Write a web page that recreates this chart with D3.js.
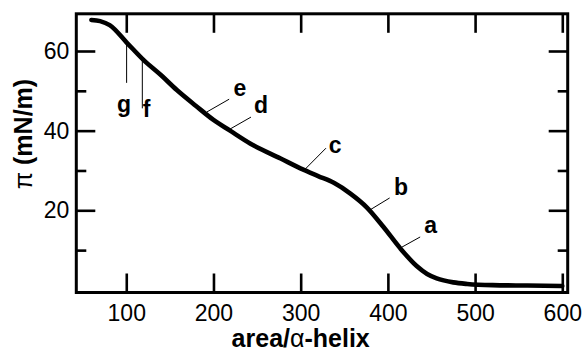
<!DOCTYPE html>
<html>
<head>
<meta charset="utf-8">
<script src="https://cdn.jsdelivr.net/npm/d3@7"></script>
<style>
  body { margin: 0; background: #fff; }
  svg { display: block; font-family: "Liberation Sans", Arial, sans-serif; }
</style>
</head>
<body>
<svg width="586" height="350"></svg>
<script>
// isotherm
var area = [60, 70, 81, 101, 120, 140, 158, 180, 200, 219, 242, 277, 303, 320, 338, 357, 376, 395, 414, 433, 445, 456, 475, 491, 520, 560, 600];
var pressure = [67.8, 67.5, 66.5, 62, 57.7, 53.9, 50.2, 46.2, 42.7, 40.0, 36.8, 33.0, 30.2, 28.6, 26.9, 24.2, 20.7, 15.8, 10.5, 6.0, 4.0, 2.9, 1.9, 1.5, 1.2, 1.1, 1.0];

var xTicks = [100, 200, 300, 400, 500, 600];
var yTicks = [20, 40, 60];
var yMinorTicks = [10, 30, 50];

// leader lines: label, curve point, line end, label anchor (data units)
var labels = ["a", "b", "c", "d", "e", "f", "g"];
var leaderFrom = [[414, 10.5], [379.5, 20.1], [305, 30.3], [219, 40.4], [192.5, 44.7], [118.4, 57.7], [100.4, 62]];
var leaderTo = [[437, 13.3], [402, 23.1], [329, 35.6], [243, 43.4], [218, 47.9], [118.4, 45.6], [100.4, 52]];
var labelAt = [[449, 14.3], [415, 23.8], [339.4, 34.4], [254.5, 44.4], [230.4, 48.6], [123.4, 43.4], [97.4, 44.7]];

var svg = d3.select("svg"),
    margin = { top: 13.8, right: 18.3, bottom: 57.5, left: 76.3 },
    width = +svg.attr("width") - margin.left - margin.right,
    height = +svg.attr("height") - margin.top - margin.bottom;

var x = d3.scaleLinear().domain([42.7, 606.2]).range([0, width]),
    y = d3.scaleLinear().domain([-0.64, 69.34]).range([height, 0]);

var g = svg.append("g")
    .attr("transform", "translate(" + margin.left + "," + margin.top + ")");

// ticks, all pointing inward
g.append("g")
    .attr("transform", "translate(0," + height + ")")
    .call(d3.axisBottom(x).tickValues(xTicks).tickSizeInner(-19).tickSizeOuter(0).tickPadding(12));
g.append("g")
    .call(d3.axisTop(x).tickValues(xTicks).tickSizeInner(-19).tickSizeOuter(0).tickFormat(""));
g.append("g")
    .call(d3.axisLeft(y).tickValues(yTicks).tickSizeInner(-19).tickSizeOuter(0).tickPadding(7));
g.append("g")
    .call(d3.axisLeft(y).tickValues(yMinorTicks).tickSizeInner(-10).tickSizeOuter(0).tickFormat(""));
g.append("g")
    .attr("transform", "translate(" + width + ",0)")
    .call(d3.axisRight(y).tickValues(yTicks).tickSizeInner(-19).tickSizeOuter(0).tickFormat(""));
g.append("g")
    .attr("transform", "translate(" + width + ",0)")
    .call(d3.axisRight(y).tickValues(yMinorTicks).tickSizeInner(-10).tickSizeOuter(0).tickFormat(""));

g.selectAll(".domain").remove();
g.selectAll(".tick line").attr("stroke", "#000").attr("stroke-width", 2.6);
g.selectAll(".tick text")
    .attr("fill", "#000")
    .style("font-size", "23px")
    .style("font-family", "'Liberation Sans', Arial, sans-serif");

g.append("rect")
    .attr("width", width)
    .attr("height", height)
    .attr("fill", "none")
    .attr("stroke", "#000")
    .attr("stroke-width", 3);

// the curve
var pts = area.map(function (a, i) { return [a, pressure[i]]; });
var line = d3.line()
    .x(function (d) { return x(d[0]); })
    .y(function (d) { return y(d[1]); })
    .curve(d3.curveMonotoneX);

g.append("path")
    .datum(pts)
    .attr("fill", "none")
    .attr("stroke", "#000")
    .attr("stroke-width", 4.6)
    .attr("stroke-linecap", "round")
    .attr("stroke-linejoin", "round")
    .attr("d", line);

// labels a..g
labels.forEach(function (lab, i) {
    g.append("line")
        .attr("x1", x(leaderFrom[i][0])).attr("y1", y(leaderFrom[i][1]))
        .attr("x2", x(leaderTo[i][0])).attr("y2", y(leaderTo[i][1]))
        .attr("stroke", "#000")
        .attr("stroke-width", 1);
    g.append("text")
        .attr("x", x(labelAt[i][0]))
        .attr("y", y(labelAt[i][1]))
        .attr("text-anchor", "middle")
        .style("font-size", "23px")
        .style("font-weight", "bold")
        .text(lab);
});

// axis titles
var xTitle = svg.append("text")
    .attr("x", margin.left + x(300))
    .attr("y", 346.5)
    .attr("text-anchor", "middle")
    .style("font-size", "25px")
    .style("font-weight", "bold");
xTitle.append("tspan").text("area/");
xTitle.append("tspan").style("font-weight", "normal").text("α");
xTitle.append("tspan").text("-helix");

var yTitle = svg.append("text")
    .attr("transform", "translate(32,134) rotate(-90)")
    .attr("text-anchor", "middle")
    .style("font-size", "25px")
    .style("font-weight", "bold");
yTitle.append("tspan").style("font-weight", "normal").text("π");
yTitle.append("tspan").text(" (mN/m)");
</script>
</body>
</html>
